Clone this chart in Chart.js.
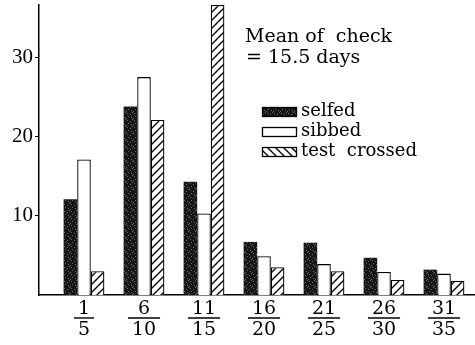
<!DOCTYPE html>
<html>
<head>
<meta charset="utf-8">
<script src="https://cdn.jsdelivr.net/npm/chart.js@4"></script>
<style>
  html, body { margin: 0; padding: 0; background: #fff; }
  #wrap { width: 475px; height: 345px; position: relative; }
</style>
</head>
<body>
<div id="wrap"><canvas id="chart1"></canvas></div>
<script>
// day classes (first/last day of each 5-day period)
const numerators = ["1", "6", "11", "16", "21", "26", "31"];
const denominators = ["5", "10", "15", "20", "25", "30", "35"];

// percentages
const selfed = [12.1, 23.8, 14.3, 6.7, 6.6, 4.7, 3.2];
const sibbed = [17.1, 27.5, 10.3, 4.9, 3.9, 2.9, 2.7];
const testCrossed = [3.0, 22.1, 36.6, 3.5, 3.0, 1.9, 1.8];

const yTicks = [10, 20, 30];
const legendLabels = ["selfed", "sibbed", "test  crossed"];
const noteLines = ["Mean of  check", "= 15.5 days"];

const serif = "'DejaVu Serif', serif";

function makeSpeckle() {
    const c = document.createElement("canvas");
    c.width = 7; c.height = 7;
    const g = c.getContext("2d");
    g.fillStyle = "#161616";
    g.fillRect(0, 0, 7, 7);
    g.fillStyle = "#6a6a6a";
    [[1, 1], [4, 2], [2, 4], [5, 5], [0, 6], [6, 0]].forEach(([x, y]) => g.fillRect(x, y, 1, 1));
    return g.createPattern(c, "repeat");
}

function makeHatch(forward) {
    const s = 8;
    const c = document.createElement("canvas");
    c.width = s; c.height = s;
    const g = c.getContext("2d");
    g.fillStyle = "#fff";
    g.fillRect(0, 0, s, s);
    g.strokeStyle = "#000";
    g.lineWidth = 1.4;
    g.beginPath();
    if (forward) {
        g.moveTo(-1, s + 1); g.lineTo(s + 1, -1);
        g.moveTo(-1, 1); g.lineTo(1, -1);
        g.moveTo(s - 1, s + 1); g.lineTo(s + 1, s - 1);
    } else {
        g.moveTo(-1, -1); g.lineTo(s + 1, s + 1);
        g.moveTo(s - 1, -1); g.lineTo(s + 1, 1);
        g.moveTo(-1, s - 1); g.lineTo(1, s + 1);
    }
    g.stroke();
    return g.createPattern(c, "repeat");
}

const speckle = makeSpeckle();
const hatchBar = makeHatch(true);
const hatchLegend = makeHatch(false);

const toPoints = arr => arr.map((v, i) => ({ x: i, y: v }));

// fraction bars under the x labels, the note and the legend
const extrasPlugin = {
    id: "extras",
    afterDraw(chart) {
        const ctx = chart.ctx;
        const xs = chart.scales.x;
        ctx.save();
        ctx.font = "19px " + serif;
        ctx.strokeStyle = "#000";
        ctx.lineWidth = 1.4;
        numerators.forEach((n, i) => {
            const w = Math.max(ctx.measureText(n).width, ctx.measureText(denominators[i]).width) + 8;
            const cx = xs.getPixelForValue(i);
            ctx.beginPath();
            ctx.moveTo(cx - w / 2, 318);
            ctx.lineTo(cx + w / 2, 318);
            ctx.stroke();
        });

        ctx.fillStyle = "#000";
        ctx.textBaseline = "alphabetic";
        ctx.font = "19px " + serif;
        ctx.fillText(noteLines[0], 245, 42);
        ctx.fillText(noteLines[1], 246, 63);

        const fills = [speckle, "#fff", hatchLegend];
        const rows = [107, 127, 147];
        ctx.font = "18px " + serif;
        legendLabels.forEach((lab, i) => {
            ctx.fillStyle = fills[i];
            ctx.fillRect(262, rows[i], 35, 10);
            ctx.lineWidth = 1.3;
            ctx.strokeRect(262.5, rows[i] + 0.5, 34, 9);
            ctx.fillStyle = "#000";
            ctx.fillText(lab, 301, rows[i] + 9);
        });
        ctx.restore();
    }
};

new Chart(document.getElementById("chart1"), {
    type: "bar",
    data: {
        datasets: [
            { label: legendLabels[0], data: toPoints(selfed), backgroundColor: speckle, borderColor: "#000", borderWidth: 0 },
            { label: legendLabels[1], data: toPoints(sibbed), backgroundColor: "#fff", borderColor: "#000", borderWidth: 1.3 },
            { label: legendLabels[2], data: toPoints(testCrossed), backgroundColor: hatchBar, borderColor: "#000", borderWidth: 1.3 }
        ]
    },
    options: {
        responsive: true,
        maintainAspectRatio: false,
        animation: false,
        datasets: { bar: { categoryPercentage: 0.68, barPercentage: 1.0 } },
        layout: { padding: { left: 0, right: 1, top: 5, bottom: 0 } },
        plugins: { legend: { display: false }, tooltip: { enabled: false } },
        scales: {
            x: {
                type: "linear",
                offset: false,
                min: -0.75,
                max: 6.5,
                afterBuildTicks: s => { s.ticks = numerators.map((_, i) => ({ value: i })); },
                afterFit: s => { s.height = 50; s.paddingLeft = 0; s.paddingRight = 0; },
                grid: { drawOnChartArea: false, drawTicks: false },
                border: { display: true, color: "#000", width: 1.5 },
                ticks: {
                    color: "#000",
                    font: { family: serif, size: 19, lineHeight: 1.1 },
                    padding: 4,
                    maxRotation: 0,
                    autoSkip: false,
                    callback: v => [numerators[v], denominators[v]]
                }
            },
            y: {
                min: 0,
                max: 36.6,
                afterBuildTicks: s => { s.ticks = yTicks.map(v => ({ value: v })); },
                afterFit: s => { s.width = 39; s.paddingTop = 0; s.paddingBottom = 0; },
                grid: { drawOnChartArea: false, drawTicks: true, tickLength: 4, color: "#000" },
                border: { display: true, color: "#000", width: 1.5 },
                ticks: {
                    color: "#000",
                    font: { family: "'Liberation Serif', serif", size: 21 },
                    padding: 2
                }
            }
        }
    },
    plugins: [extrasPlugin]
});
</script>
</body>
</html>
